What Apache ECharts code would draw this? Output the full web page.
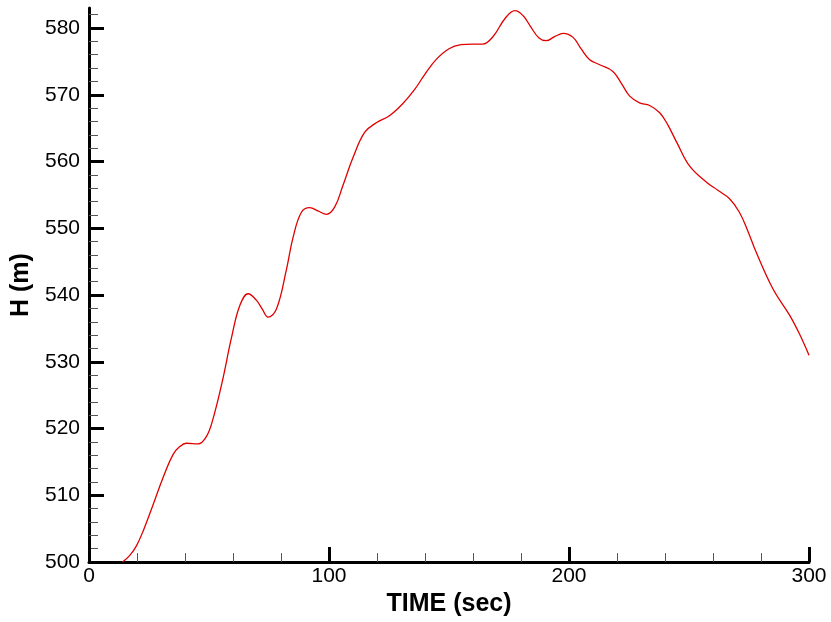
<!DOCTYPE html>
<html>
<head>
<meta charset="utf-8">
<title>H vs TIME</title>
<script src="https://cdn.jsdelivr.net/npm/echarts@6/dist/echarts.min.js"></script>
<style>
  html, body { margin: 0; padding: 0; background: #fff; }
  #chart { width: 831px; height: 622px; }
</style>
</head>
<body>
<div id="chart"></div>
<script>
// Time samples (sec) and head H (m)
const timeSec = [
  14, 17, 19.7, 22.5, 26.7, 30.8, 35, 37.8, 40.6, 45.4, 48.9, 51.7, 55.5, 59.3,
  62.8, 66.3, 69.8, 72.2, 74.6, 78.1, 82.3, 85, 88.5, 92, 95.4, 99, 102.4, 105.8,
  110, 114.9, 119.7, 125.3, 130.8, 135.7, 140, 144.7, 150, 155, 160, 164, 168.3,
  173.5, 177.5, 181, 184, 187.5, 190.5, 194, 197.6, 201.7, 205, 208.5, 212.8,
  218.3, 222, 225.3, 229.4, 233.6, 237.8, 241, 245, 250.3, 257.3, 262, 267, 271,
  274.5, 278, 285, 291.9, 296, 300
];
const headM = [
  500.0, 501.0, 502.4, 504.6, 508.6, 512.6, 516.1, 517.3, 517.8, 517.7, 518.8,
  521.5, 527.0, 533.5, 538.4, 540.2, 539.2, 537.9, 536.7, 537.9, 543.9, 548.6,
  552.4, 553.1, 552.6, 552.1, 553.2, 556.4, 560.6, 564.4, 565.8, 566.9, 568.7,
  570.8, 573.1, 575.3, 576.9, 577.5, 577.6, 577.6, 578.7, 581.5, 582.6, 581.8,
  580.2, 578.5, 578.1, 578.7, 579.2, 578.6, 576.9, 575.3, 574.5, 573.5, 571.6,
  569.8, 568.8, 568.4, 567.3, 565.6, 562.8, 559.3, 556.9, 555.7, 554.4, 552.4,
  549.6, 546.4, 540.9, 537.0, 534.2, 531.0
];

// Axis ticks
const yMajorTicks = [500, 510, 520, 530, 540, 550, 560, 570, 580];
const yMinorTicks = [
  502, 504, 506, 508, 512, 514, 516, 518, 522, 524, 526, 528, 532, 534, 536, 538,
  542, 544, 546, 548, 552, 554, 556, 558, 562, 564, 566, 568, 572, 574, 576, 578, 582
];

const points = timeSec.map((t, i) => [t, headM[i]]);

const FONT = '"Liberation Sans", Arial, Helvetica, sans-serif';
const Y_MIN = 500, Y_MAX = 583;

const chart = echarts.init(document.getElementById('chart'), null, { renderer: 'canvas' });

chart.setOption({
  animation: false,
  backgroundColor: '#ffffff',
  grid: { left: 89, right: 22, top: 8, bottom: 57, containLabel: false },
  xAxis: {
    type: 'value',
    min: 0,
    max: 300,
    interval: 100,
    name: 'TIME (sec)',
    nameLocation: 'middle',
    nameGap: 19,
    nameTextStyle: { fontFamily: FONT, fontWeight: 'bold', fontSize: 25, color: '#000' },
    axisLine: { show: true, onZero: false, lineStyle: { color: '#000', width: 3 } },
    axisTick: { show: true, inside: true, length: 15, lineStyle: { color: '#000', width: 3 } },
    minorTick: { show: true, splitNumber: 5, length: 9, lineStyle: { color: '#555', width: 1 } },
    axisLabel: { fontFamily: FONT, fontSize: 21, color: '#000', margin: 4 },
    splitLine: { show: false },
    minorSplitLine: { show: false }
  },
  yAxis: [
    {
      type: 'value',
      position: 'left',
      offset: 0,
      min: Y_MIN,
      max: Y_MAX,
      name: 'H (m)',
      nameLocation: 'middle',
      nameGap: 47,
      nameRotate: 90,
      nameTextStyle: { fontFamily: FONT, fontWeight: 'bold', fontSize: 25, color: '#000' },
      axisLine: { show: true, onZero: false, lineStyle: { color: '#000', width: 3 } },
      axisTick: {
        show: true, inside: true, length: 15,
        customValues: yMajorTicks,
        lineStyle: { color: '#000', width: 3 }
      },
      axisLabel: {
        fontFamily: FONT, fontSize: 21, color: '#000', margin: 9,
        customValues: yMajorTicks
      },
      splitLine: { show: false }
    },
    {
      type: 'value',
      position: 'left',
      offset: 0,
      min: Y_MIN,
      max: Y_MAX,
      axisLine: { show: false },
      axisTick: {
        show: true, inside: true, length: 9,
        customValues: yMinorTicks,
        lineStyle: { color: '#555', width: 1 }
      },
      axisLabel: { show: false, customValues: yMinorTicks },
      splitLine: { show: false }
    }
  ],
  series: [
    {
      type: 'line',
      yAxisIndex: 0,
      data: points,
      smooth: 0.4,
      symbol: 'none',
      clip: true,
      lineStyle: { color: '#e00000', width: 1.3 }
    }
  ]
});
</script>
</body>
</html>
